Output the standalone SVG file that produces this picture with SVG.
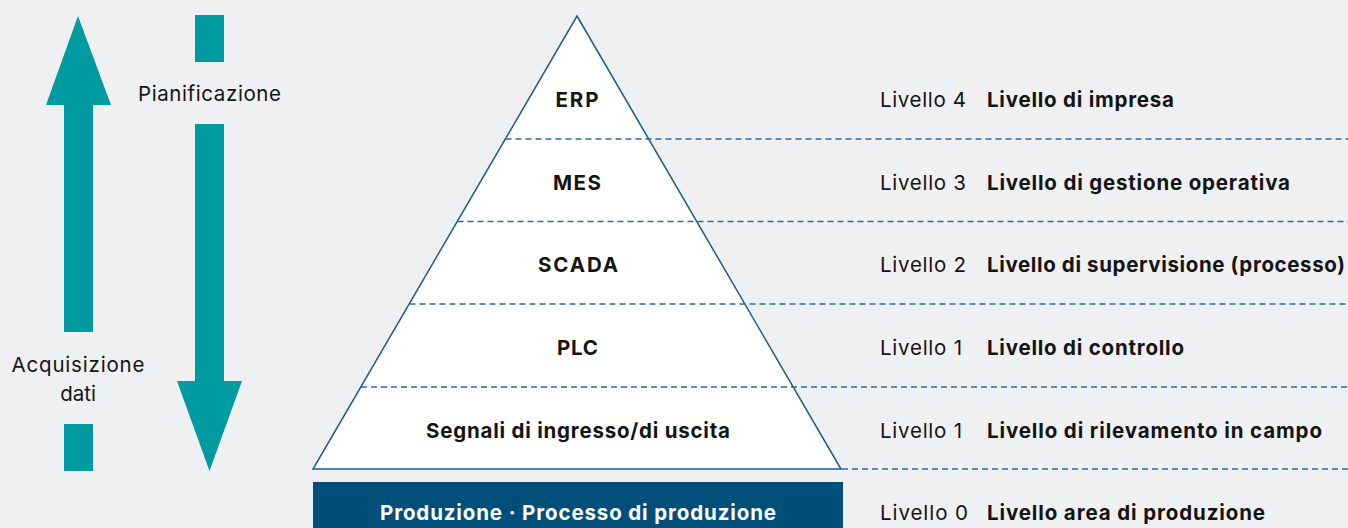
<svg xmlns="http://www.w3.org/2000/svg" width="1348" height="528" viewBox="0 0 1348 528">
<style>
.bg{fill:#eff0f2}
.teal{fill:#009ba1}
.sep{stroke:#2a6c9c;stroke-width:1.3;stroke-dasharray:6 4;fill:none}
.tri{fill:#ffffff;stroke:#1d5b8a;stroke-width:1.5;stroke-linejoin:miter}
.lbl{font-family:Inter,"Liberation Sans",sans-serif;font-size:20.5px;fill:#141414}
.b{font-weight:700}
.c{text-anchor:middle}
.w{fill:#ffffff}
</style>
<rect class="bg" x="0" y="0" width="1348" height="528"/>

<g id="arrow-acquisizione">
  <polygon class="teal" points="78,16 111,105 93,105 93,332 64,332 64,105 46,105"/>
  <rect class="teal" x="64" y="424" width="29" height="47"/>
  <text class="lbl c" x="78" y="372" textLength="133">Acquisizione</text>
  <text class="lbl c" x="78" y="401">dati</text>
</g>

<g id="arrow-pianificazione">
  <rect class="teal" x="195" y="15" width="29" height="47"/>
  <text class="lbl c" x="209.5" y="101" textLength="143">Pianificazione</text>
  <polygon class="teal" points="195,124 224,124 224,381 242,381 209.5,471 177,381 195,381"/>
</g>

<g id="pyramid">
  <polygon class="tri" points="577,16 841,469 313,469"/>
</g>

<g id="separators">
  <line class="sep" x1="505.5" y1="139" x2="1348" y2="139"/>
  <line class="sep" x1="457.5" y1="221.5" x2="1348" y2="221.5"/>
  <line class="sep" x1="409.5" y1="304" x2="1348" y2="304"/>
  <line class="sep" x1="361" y1="387" x2="1348" y2="387"/>
  <line class="sep" x1="842" y1="469" x2="1348" y2="469"/>
</g>

<g id="level-4">
  <text class="lbl b c" x="577" y="107" textLength="43">ERP</text>
  <text class="lbl" x="880" y="107" textLength="86">Livello 4</text>
  <text class="lbl b" x="987" y="107" textLength="187">Livello di impresa</text>
</g>

<g id="level-3">
  <text class="lbl b c" x="577" y="190" textLength="48">MES</text>
  <text class="lbl" x="880" y="190" textLength="86">Livello 3</text>
  <text class="lbl b" x="987" y="190" textLength="303">Livello di gestione operativa</text>
</g>

<g id="level-2">
  <text class="lbl b c" x="578" y="272" textLength="80">SCADA</text>
  <text class="lbl" x="880" y="272" textLength="86">Livello 2</text>
  <text class="lbl b" x="987" y="272" textLength="358">Livello di supervisione (processo)</text>
</g>

<g id="level-1-plc">
  <text class="lbl b c" x="577.5" y="355" textLength="41">PLC</text>
  <text class="lbl" x="880" y="355" textLength="82">Livello 1</text>
  <text class="lbl b" x="987" y="355" textLength="197">Livello di controllo</text>
</g>

<g id="level-1-io">
  <text class="lbl b c" x="578" y="438" textLength="304">Segnali di ingresso/di uscita</text>
  <text class="lbl" x="880" y="438" textLength="82">Livello 1</text>
  <text class="lbl b" x="987" y="438" textLength="335">Livello di rilevamento in campo</text>
</g>

<g id="level-0">
  <rect x="313" y="482" width="530" height="46" fill="#004f7a"/>
  <text class="lbl b c w" x="578" y="520" textLength="396">Produzione · Processo di produzione</text>
  <text class="lbl" x="880" y="520" textLength="88">Livello 0</text>
  <text class="lbl b" x="987" y="520" textLength="278">Livello area di produzione</text>
</g>
</svg>
